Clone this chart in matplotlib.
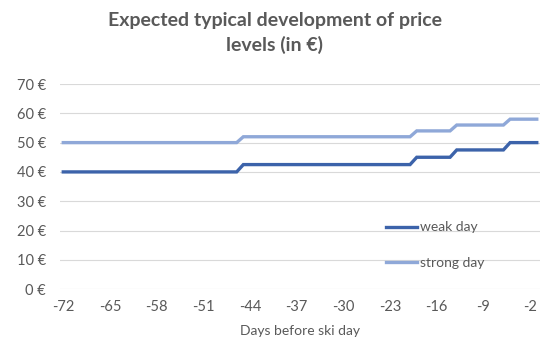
import numpy as np
import matplotlib
matplotlib.use("Agg")
import matplotlib.pyplot as plt

plt.rcParams['font.family'] = ['Lato', 'DejaVu Sans']

# Breakpoints of the price curves (days before ski day)
days = [-72, -46, -45, -20, -19, -14, -13, -6, -5, -1]
weak_day = [40, 40, 42.5, 42.5, 45, 45, 47.5, 47.5, 50, 50]
strong_day = [50, 50, 52, 52, 54, 54, 56, 56, 58, 58]

x_ticks = [-72, -65, -58, -51, -44, -37, -30, -23, -16, -9, -2]
y_ticks = [0, 10, 20, 30, 40, 50, 60, 70]

text_col = '#595959'

fig = plt.figure(figsize=(5.5, 3.53), dpi=100)
ax = fig.add_axes([0.109, 0.181, 0.873, 0.581])

ax.plot(days, weak_day, color='#3C63AA', lw=2.4, label='weak day', solid_joinstyle='miter')
ax.plot(days, strong_day, color='#8FA8D8', lw=2.4, label='strong day', solid_joinstyle='miter')

ax.set_xlim(-72.5, -0.5)
ax.set_ylim(0, 70)
ax.set_xticks(x_ticks)
ax.set_xticklabels([str(v) for v in x_ticks])
ax.set_yticks(y_ticks)
ax.set_yticklabels([f'{v} €' for v in y_ticks])

ax.grid(axis='y', color='#D9D9D9', lw=0.8)
ax.set_axisbelow(True)
for s in ax.spines.values():
    s.set_visible(False)
ax.tick_params(length=0, labelsize=10.5, labelcolor=text_col, pad=8)
ax.tick_params(axis='y', pad=10)

ax.set_xlabel('Days before ski day', fontsize=10, color=text_col, labelpad=8)
fig.suptitle('Expected typical development of price\nlevels (in €)', fontsize=14,
             fontweight='bold', color=text_col, y=0.965, linespacing=1.45)

ax.legend(loc='upper left', bbox_to_anchor=(0.68, 0.33), frameon=False, fontsize=10,
          labelspacing=1.7, handlelength=2.2, handletextpad=0.2, borderpad=0,
          borderaxespad=0, labelcolor=text_col)

fig.savefig('out.png', dpi=100)
